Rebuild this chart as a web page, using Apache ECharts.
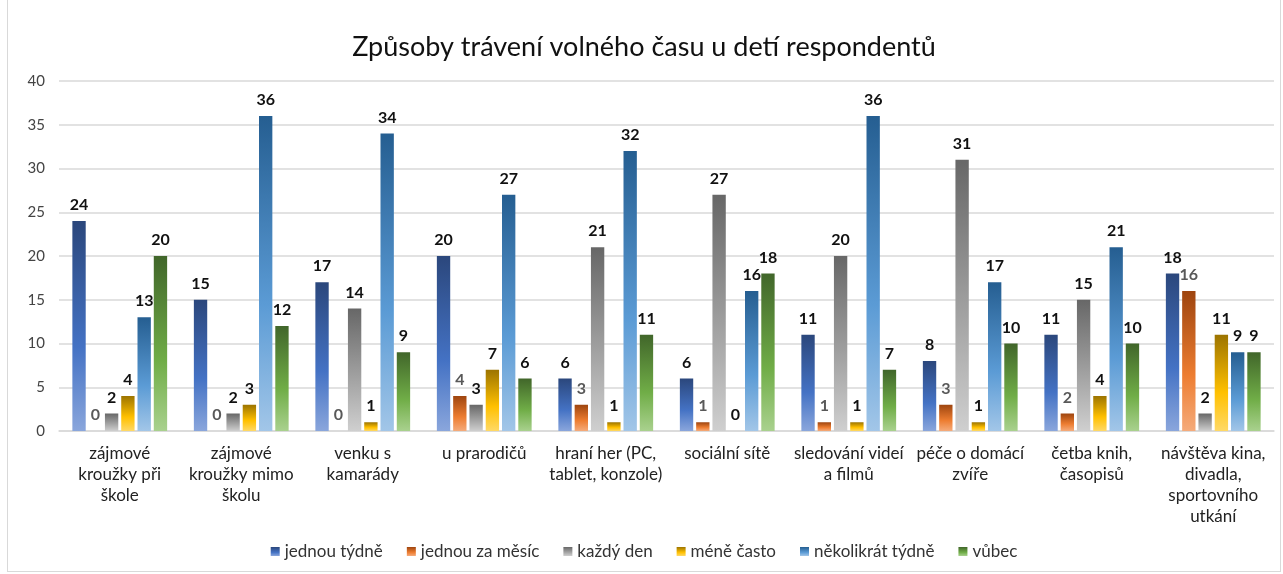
<!DOCTYPE html>
<html>
<head>
<meta charset="utf-8">
<script src="https://cdn.jsdelivr.net/npm/echarts@6/dist/echarts.min.js"></script>
<style>
  html, body { margin: 0; padding: 0; background: #fff; }
  #main { position: absolute; left: 7px; top: 0; width: 1274px; height: 572px; border: 1px solid #d9d9d9; border-top: none; box-sizing: border-box; }
</style>
</head>
<body>
<div id="main"></div>
<script>
// popisky kategorií (se zalomením jako v originále)
var categories = [
    'zájmové\nkroužky při\nškole',
    'zájmové\nkroužky mimo\nškolu',
    'venku s\nkamarády',
    'u prarodičů',
    'hraní her (PC,\ntablet, konzole)',
    'sociální sítě',
    'sledování videí\na filmů',
    'péče o domácí\nzvíře',
    'četba knih,\nčasopisů',
    'návštěva kina,\ndivadla,\nsportovního\nutkání'
];
var seriesNames = ['jednou týdně', 'jednou za měsíc', 'každý den', 'méně často', 'několikrát týdně', 'vůbec'];
var jednouTydne     = [24, 15, 17, 20, 6, 6, 11, 8, 11, 18];
var jednouZaMesic   = [0, 0, 0, 4, 3, 1, 1, 3, 2, 16];
var kazdyDen        = [2, 2, 14, 3, 21, 27, 20, 31, 15, 2];
var meneCasto       = [4, 3, 1, 7, 1, 0, 1, 1, 4, 11];
var nekolikratTydne = [13, 36, 34, 27, 32, 16, 36, 17, 21, 9];
var vubec           = [20, 12, 9, 6, 11, 18, 7, 10, 10, 9];
var yTicks = [0, 5, 10, 15, 20, 25, 30, 35, 40];

var values = [jednouTydne, jednouZaMesic, kazdyDen, meneCasto, nekolikratTydne, vubec];
// barvy přechodu: nahoře / uprostřed / dole
var grads = [
    ['#2b477c', '#4472c4', '#8aa6dc'],
    ['#9e450f', '#ed7d31', '#f5ab7b'],
    ['#676767', '#a5a5a5', '#cfcfcf'],
    ['#9c7400', '#ffc000', '#ffd966'],
    ['#255e91', '#5b9bd5', '#a2c6e8'],
    ['#41662a', '#70ad47', '#a9d18e']
];

function grad(c) {
    return new echarts.graphic.LinearGradient(0, 0, 0, 1, [
        {offset: 0, color: c[0]},
        {offset: 0.6, color: c[1]},
        {offset: 1, color: c[2]}
    ]);
}

var fontFam = 'Lato, "Noto Sans", sans-serif';
var chart = echarts.init(document.getElementById('main'));

var series = seriesNames.map(function (name, i) {
    return {
        name: name,
        type: 'bar',
        data: values[i],
        barGap: '22%',
        barCategoryGap: '22%',
        itemStyle: {color: grad(grads[i])},
        label: {
            show: true,
            position: 'top',
            distance: 8,
            fontFamily: fontFam,
            fontSize: 16,
            fontWeight: 'bold',
            color: i === 1 ? '#595959' : '#111'
        }
    };
});

var option = {
    animation: false,
    title: {
        text: 'Způsoby trávení volného času u detí respondentů',
        left: 'center',
        top: 29,
        textStyle: {fontFamily: fontFam, fontSize: 27, fontWeight: 'normal', color: '#111'}
    },
    legend: {
        bottom: 6,
        left: 'center',
        itemWidth: 9,
        itemHeight: 9,
        itemGap: 24,
        icon: 'rect',
        textStyle: {fontFamily: fontFam, fontSize: 17, color: '#333'}
    },
    grid: {left: 51, right: 6, top: 81, height: 350, containLabel: false},
    xAxis: {
        type: 'category',
        data: categories,
        axisLine: {lineStyle: {color: '#d9d9d9', width: 1.5}},
        axisTick: {show: false},
        axisLabel: {
            interval: 0,
            margin: 12,
            lineHeight: 21,
            fontFamily: fontFam,
            fontSize: 17,
            color: '#222'
        }
    },
    yAxis: {
        type: 'value',
        min: 0,
        max: yTicks[yTicks.length - 1],
        interval: 5,
        axisLine: {show: false},
        axisTick: {show: false},
        splitLine: {lineStyle: {color: '#d9d9d9', width: 1.5}},
        axisLabel: {
            margin: 14,
            fontFamily: fontFam,
            fontSize: 15,
            color: '#444'
        }
    },
    series: series
};

chart.setOption(option);
</script>
</body>
</html>
